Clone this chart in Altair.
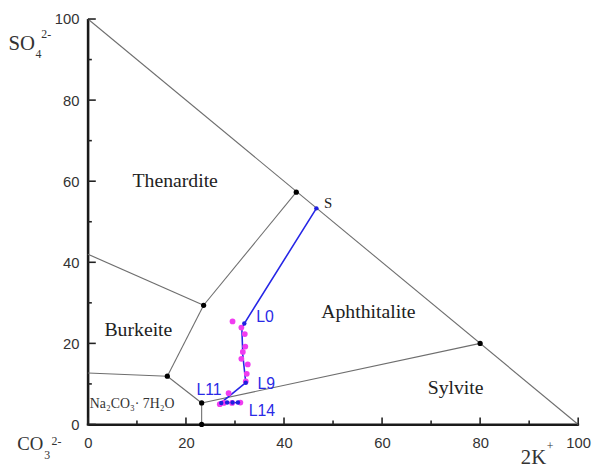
import altair as alt
import pandas as pd

# ---------------- data ----------------
# phase-boundary segments (x = 2K+, y = SO4 2-), in J-units
seg_id = ["hyp", "hyp", "CB", "CB", "BA", "BA", "BD", "BD", "ED", "ED", "DF", "DF", "FG", "FG", "FH", "FH"]
seg_x = [0, 100, 0, 23.6, 23.6, 42.5, 23.6, 16.2, 0, 16.2, 16.2, 23.2, 23.2, 23.2, 23.2, 80]
seg_y = [100, 0, 42.0, 29.4, 29.4, 57.3, 29.4, 11.9, 12.7, 11.9, 11.9, 5.3, 5.3, 0, 5.3, 20]

# axis frame strips (left and bottom axis lines) as thin rectangles
frame_x1 = [-0.22, -0.22]
frame_x2 = [0.22, 100.2]
frame_y1 = [-0.25, -0.25]
frame_y2 = [100.0, 0.25]

# invariant points (black dots)
inv_x = [42.5, 23.6, 16.2, 23.2, 80, 23.2]
inv_y = [57.3, 29.4, 11.9, 5.3, 20, 0]

# evaporation path (blue line) S -> L0 ... L9 -> L11 ... L14
path_x = [46.6, 31.9, 31.4, 31.6, 32.2, 27.0, 30.7]
path_y = [53.3, 24.9, 23.6, 17.0, 10.3, 5.2, 5.4]

# blue dots on path
bdot_x = [46.6, 31.9, 32.2, 27.2, 28.4, 29.5, 30.6]
bdot_y = [53.3, 24.9, 10.3, 5.3, 5.4, 5.4, 5.4]

# experimental liquid-phase points (magenta)
exp_x = [29.5, 31.3, 32.0, 32.1, 31.6, 31.3, 32.6, 32.4, 32.2, 28.7, 26.9, 27.7, 29.4, 31.1]
exp_y = [25.4, 23.9, 22.3, 19.2, 17.9, 16.2, 14.8, 12.5, 10.6, 7.7, 5.0, 5.3, 5.3, 5.4]

# axis ticks
major_ticks = [0, 20, 40, 60, 80, 100]
minor_ticks = [10, 30, 50, 70, 90]

# region labels (serif)
region_text = ["Thenardite", "Burkeite", "Aphthitalite", "Sylvite", "S"]
region_x = [17.8, 10.3, 57.2, 75.0, 49.0]
region_y = [60.0, 23.3, 27.7, 9.0, 54.7]
region_size = [20, 20, 20, 20, 15]

# hydrate label
hyd_text = ["Na₂CO₃· 7H₂O"]
hyd_x = [0.4]
hyd_y = [5.0]

# path labels (blue, sans)
lab_text = ["L0", "L9", "L11", "L14"]
lab_x = [36.1, 36.4, 24.7, 35.5]
lab_y = [26.6, 9.9, 8.4, 3.3]

# ion labels built from pieces (baseline-anchored, left-aligned)
ion_text = ["SO", "4", "2-", "CO", "3", "2-", "2K", "+"]
ion_x = [-16.2, -10.7, -9.5, -14.4, -8.9, -7.4, 88.3, 93.6]
ion_y = [92.4, 90.5, 95.4, -6.2, -8.5, -5.1, -9.7, -6.3]
ion_size = [21, 12, 12, 19, 12, 12, 21, 12]

W, H = 497, 411

xs = alt.Scale(domain=[0, 100], nice=False, zero=False)
ys = alt.Scale(domain=[0, 100], nice=False, zero=False)

ax_common = dict(values=major_ticks, title=None, ticks=False, tickSize=0, grid=False,
                 domain=True, domainColor="#1a1a1a", domainWidth=2,
                 labelFont="Liberation Sans",
                 labelFontSize=15, labelColor="#333333", labelFlush=False)
xa = alt.Axis(labelPadding=11, **ax_common)
ya = alt.Axis(labelPadding=9, **ax_common)

seg_df = pd.DataFrame({"seg": seg_id, "x": seg_x, "y": seg_y,
                       "o": list(range(len(seg_x)))})
frame_df = pd.DataFrame({"x": frame_x1, "x2": frame_x2, "y": frame_y1, "y2": frame_y2})
inv_df = pd.DataFrame({"x": inv_x, "y": inv_y})
path_df = pd.DataFrame({"x": path_x, "y": path_y, "o": list(range(len(path_x)))})
bdot_df = pd.DataFrame({"x": bdot_x, "y": bdot_y})
exp_df = pd.DataFrame({"x": exp_x, "y": exp_y})
region_df = pd.DataFrame({"t": region_text, "x": region_x, "y": region_y, "s": region_size})
hyd_df = pd.DataFrame({"t": hyd_text, "x": hyd_x, "y": hyd_y})
lab_df = pd.DataFrame({"t": lab_text, "x": lab_x, "y": lab_y})
ion_df = pd.DataFrame({"t": ion_text, "x": ion_x, "y": ion_y, "s": ion_size})
maj_df = pd.DataFrame({"v": major_ticks})
min_df = pd.DataFrame({"v": minor_ticks})


def X(f="x:Q"):
    return alt.X(f, scale=xs, axis=xa)


def Y(f="y:Q"):
    return alt.Y(f, scale=ys, axis=ya)


tick_style = dict(color="#222222", strokeWidth=1.6, clip=False)
xmaj = alt.Chart(maj_df).mark_rule(**tick_style).encode(
    x=X("v:Q"), y=alt.value(H), y2=alt.value(H - 7))
xmin = alt.Chart(min_df).mark_rule(**tick_style).encode(
    x=X("v:Q"), y=alt.value(H), y2=alt.value(H - 4))
ymaj = alt.Chart(maj_df).mark_rule(**tick_style).encode(
    y=Y("v:Q"), x=alt.value(0), x2=alt.value(8))
ymin = alt.Chart(min_df).mark_rule(**tick_style).encode(
    y=Y("v:Q"), x=alt.value(0), x2=alt.value(4))

frame = alt.Chart(frame_df).mark_rect(color="#1a1a1a", clip=False, opacity=1).encode(
    x=X(), x2="x2:Q", y=Y(), y2="y2:Q")

segs = alt.Chart(seg_df).mark_line(color="#6e6e6e", strokeWidth=1.1).encode(
    x=X(), y=Y(), detail="seg:N", order="o:Q")

inv = alt.Chart(inv_df).mark_circle(color="#000000", size=28, opacity=1).encode(x=X(), y=Y())

exp = alt.Chart(exp_df).mark_circle(color="#f03cf0", size=34, opacity=1).encode(x=X(), y=Y())

path = alt.Chart(path_df).mark_line(color="#2626e6", strokeWidth=1.6).encode(
    x=X(), y=Y(), order="o:Q")

bdots = alt.Chart(bdot_df).mark_circle(color="#2020e0", size=20, opacity=1).encode(x=X(), y=Y())

regions = alt.Chart(region_df).mark_text(font="Liberation Serif", color="#222222",
                                         align="center", baseline="middle").encode(
    x=X(), y=Y(), text="t:N", size=alt.Size("s:Q", scale=None, legend=None))

hyd = alt.Chart(hyd_df).mark_text(font="Liberation Serif", color="#333333", fontSize=14,
                                  align="left", baseline="middle").encode(
    x=X(), y=Y(), text="t:N")

labs = alt.Chart(lab_df).mark_text(font="Liberation Sans", color="#2a2ae6", fontSize=16,
                                   align="center", baseline="middle").encode(
    x=X(), y=Y(), text="t:N")

ions = alt.Chart(ion_df).mark_text(font="Liberation Serif", color="#333333",
                                   align="left", baseline="alphabetic").encode(
    x=X(), y=Y(), text="t:N", size=alt.Size("s:Q", scale=None, legend=None))

chart = alt.layer(
    frame, segs, path, exp, bdots, inv, xmaj, xmin, ymaj, ymin,
    regions, hyd, labs, ions
).properties(
    width=W, height=H,
    autosize=alt.AutoSizeParams(type="none"),
    padding={"left": 81, "top": 8, "right": 14, "bottom": 44},
    background="white",
).configure_view(stroke=None)

chart.save("out.html", embed_options={"renderer": "svg", "actions": False})
